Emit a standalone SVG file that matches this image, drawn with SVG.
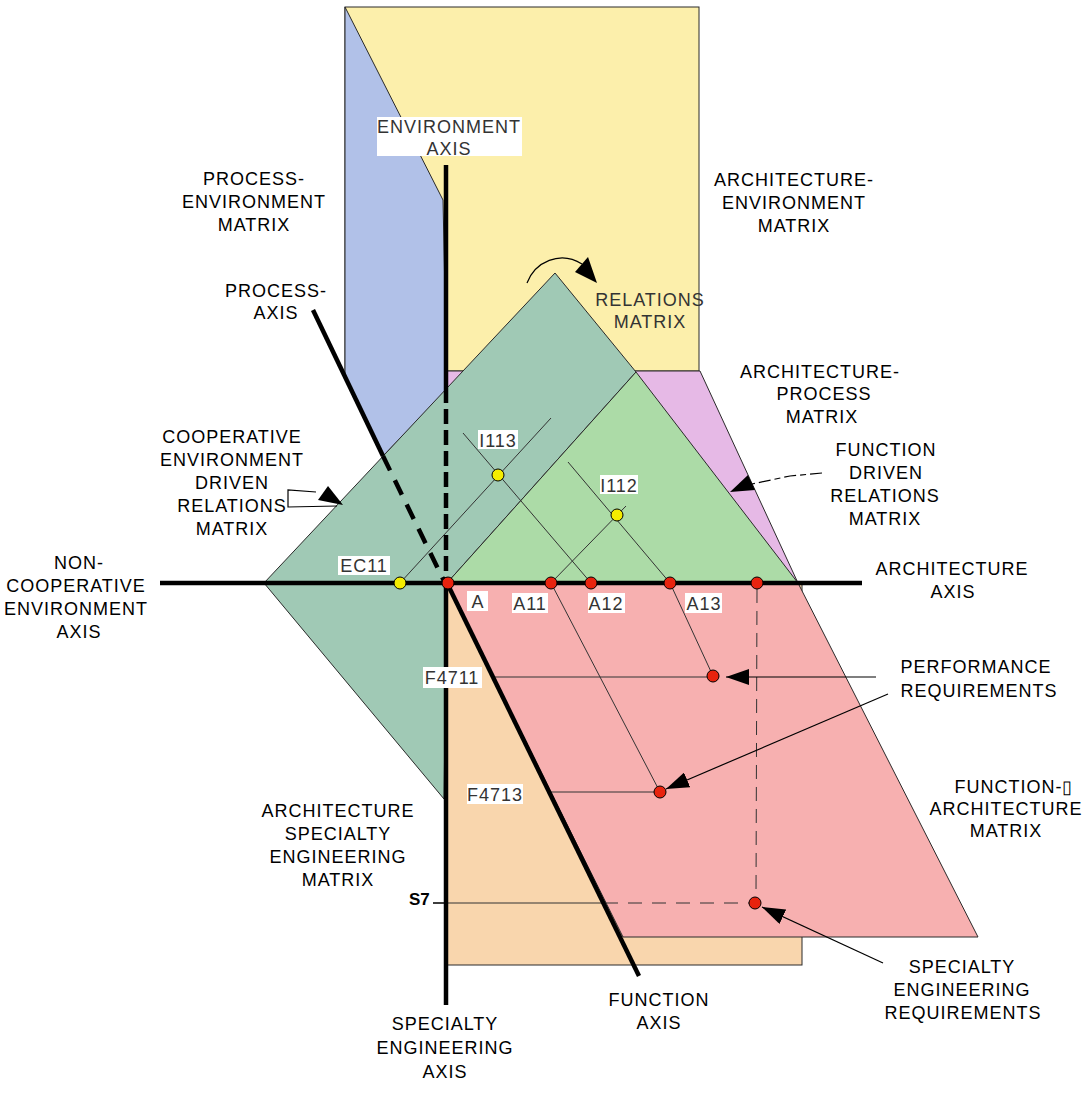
<svg xmlns="http://www.w3.org/2000/svg" width="1086" height="1099" viewBox="0 0 1086 1099">
<defs>
<style>
.lbl{font-family:"Liberation Sans",Arial,Helvetica,sans-serif;font-size:18px;letter-spacing:1px;text-anchor:middle;fill:#000}
.tag{font-family:"Liberation Sans",Arial,Helvetica,sans-serif;font-size:18px;letter-spacing:1px;text-anchor:middle;fill:#333}
.edge{stroke:#2a2a2a;stroke-width:1;stroke-linejoin:miter}
.axis{stroke:#000;stroke-width:4.5;fill:none}
.guide{stroke:#333;stroke-width:1;fill:none}
.call{stroke:#000;stroke-width:1.2;fill:none}
.rdot{fill:#e8230e;stroke:#000;stroke-width:1}
.ydot{fill:#f4ec00;stroke:#000;stroke-width:1}
.box{fill:#fff}
</style>
<marker id="head" markerUnits="userSpaceOnUse" markerWidth="24" markerHeight="16" refX="23" refY="8" orient="auto" viewBox="0 0 24 16">
<path d="M0,0 L23,8 L0,16 Z" fill="#000"/>
</marker>
</defs>
<rect width="1086" height="1099" fill="#fff"/>

<!-- matrix planes -->
<g id="planes">
<g id="architecture-environment-matrix"><rect x="345" y="7" width="354" height="364" fill="#fcefab" class="edge"/></g>
<g id="process-environment-matrix"><polygon points="345,7 443,200 447,390 383,456 345,378" fill="#b1c1e8" class="edge"/></g>
<g id="architecture-process-matrix"><polygon points="445,371 700,371 798,583 447,583" fill="#e6b9e6" class="edge"/></g>
<g id="architecture-specialty-matrix"><rect x="447" y="583" width="355" height="382" fill="#f9d6ad" class="edge"/></g>
<g id="function-architecture-matrix"><polygon points="447,583 798,583 978,937 623,937" fill="#f7b0b0" class="edge"/></g>
<g id="cooperative-relations-matrix"><polygon points="264,583 555,273 636,372 447,583 444,799" fill="#a0c9b5" class="edge"/></g>
<g id="function-relations-matrix"><polygon points="447,583 636,372 798,583" fill="#acdba7" class="edge"/></g>
</g>

<!-- projection guide lines -->
<g id="guides">
<path class="guide" d="M400,583 L551,418"/>
<path class="guide" d="M463,433 L591,583"/>
<path class="guide" d="M551,583 L626,506"/>
<path class="guide" d="M568,462 L670,583"/>
<path class="guide" d="M551,583 L660,792"/>
<path class="guide" d="M670,583 L713,676"/>
<path class="guide" d="M492,677 L713,677"/>
<path class="guide" d="M549,792 L660,792"/>
<path class="guide" d="M433,903 L604,903"/>
<path class="guide" d="M604,903 L749,903" stroke-dasharray="14,10"/>
<path class="guide" d="M757,589 L756,897" stroke-dasharray="14,8"/>
</g>

<!-- axes -->
<g id="axes">
<path class="axis" d="M160,583 L862,583"/>
<path class="axis" d="M446,165 L446,388"/>
<path class="axis" d="M446,388 L446,581" stroke-dasharray="15,6"/>
<path class="axis" d="M446,583 L446,1005"/>
<path class="axis" d="M313,310 L383,456"/>
<path class="axis" d="M383,456 L444,581" stroke-width="6" stroke-dasharray="16,11"/>
<path class="axis" d="M447,583 L639,976" stroke-width="5"/>
</g>

<!-- element points -->
<g id="points">
<circle class="ydot" cx="400" cy="583" r="6"/>
<circle class="ydot" cx="498" cy="475" r="6"/>
<circle class="ydot" cx="617" cy="515" r="6"/>
<circle class="rdot" cx="448" cy="583" r="6"/>
<circle class="rdot" cx="551" cy="583" r="6"/>
<circle class="rdot" cx="591" cy="583" r="6"/>
<circle class="rdot" cx="670" cy="583" r="6"/>
<circle class="rdot" cx="757" cy="583" r="6"/>
<circle class="rdot" cx="713" cy="676" r="6"/>
<circle class="rdot" cx="660" cy="792" r="6"/>
<circle class="rdot" cx="755" cy="903" r="6"/>
</g>

<!-- callout connectors -->
<g id="connectors">
<path class="call" d="M527,283 C535,262 560,250 582,264"/>
<polygon points="575,272 588,257 597,283" fill="#000"/>
<path class="call" d="M822,473 L790,476 L752,484" stroke-dasharray="12,4,6,4"/>
<polygon points="730,492 748,475 755,490" fill="#000"/>
<path class="call" d="M337,506 L288,507 L288,490 L316,492"/>
<polygon points="318,500 328,486 343,505" fill="#000"/>
<path class="call" d="M876,677 L726,677" marker-end="url(#head)"/>
<path class="call" d="M888,694 L666,789" marker-end="url(#head)"/>
<path class="call" d="M883,963 L762,907" marker-end="url(#head)"/>
</g>

<!-- labels inside the planes -->
<g id="plane-tags">
<rect class="box" x="377" y="117" width="145" height="39"/>
<text class="tag" x="449" y="133">ENVIRONMENT</text>
<text class="tag" x="449" y="155">AXIS</text>
<text class="tag" x="650" y="306">RELATIONS</text>
<text class="tag" x="650" y="328">MATRIX</text>
<rect class="box" x="338" y="556" width="52" height="19"/>
<text class="tag" x="364" y="572">EC11</text>
<rect class="box" x="478" y="430" width="40" height="19"/>
<text class="tag" x="498" y="447">I113</text>
<rect class="box" x="600" y="475" width="38" height="19"/>
<text class="tag" x="619" y="492">I112</text>
<rect class="box" x="467" y="591" width="21" height="20"/>
<text class="tag" x="478" y="608">A</text>
<rect class="box" x="512" y="593" width="36" height="20"/>
<text class="tag" x="530" y="610">A11</text>
<rect class="box" x="588" y="593" width="37" height="20"/>
<text class="tag" x="606" y="610">A12</text>
<rect class="box" x="685" y="593" width="37" height="20"/>
<text class="tag" x="704" y="610">A13</text>
<rect class="box" x="423" y="667" width="59" height="21"/>
<text class="tag" x="452" y="684">F4711</text>
<rect class="box" x="467" y="784" width="56" height="20"/>
<text class="tag" x="495" y="801">F4713</text>
<text x="409" y="905" style="font-family:'Liberation Sans',Arial,sans-serif;font-size:17px;font-weight:bold;fill:#000">S7</text>
<path d="M433,903 L447,903" stroke="#000" stroke-width="1.2"/>
</g>

<!-- outside labels -->
<g id="labels">
<g id="label-process-environment"><text class="lbl" x="254" y="185">PROCESS-</text><text class="lbl" x="254" y="208">ENVIRONMENT</text><text class="lbl" x="254" y="231">MATRIX</text></g>
<g id="label-process-axis"><text class="lbl" x="276" y="297">PROCESS-</text><text class="lbl" x="276" y="319">AXIS</text></g>
<g id="label-architecture-environment"><text class="lbl" x="794" y="186">ARCHITECTURE-</text><text class="lbl" x="794" y="209">ENVIRONMENT</text><text class="lbl" x="794" y="232">MATRIX</text></g>
<g id="label-architecture-process"><text class="lbl" x="820" y="378">ARCHITECTURE-</text><text class="lbl" x="824" y="400">PROCESS</text><text class="lbl" x="822" y="423">MATRIX</text></g>
<g id="label-function-relations"><text class="lbl" x="886" y="456">FUNCTION</text><text class="lbl" x="886" y="479">DRIVEN</text><text class="lbl" x="885" y="502">RELATIONS</text><text class="lbl" x="885" y="525">MATRIX</text></g>
<g id="label-cooperative-relations"><text class="lbl" x="232" y="443">COOPERATIVE</text><text class="lbl" x="232" y="466">ENVIRONMENT</text><text class="lbl" x="232" y="489">DRIVEN</text><text class="lbl" x="232" y="512">RELATIONS</text><text class="lbl" x="232" y="535">MATRIX</text></g>
<g id="label-noncooperative-axis"><text class="lbl" x="79" y="569">NON-</text><text class="lbl" x="76" y="592">COOPERATIVE</text><text class="lbl" x="76" y="615">ENVIRONMENT</text><text class="lbl" x="79" y="638">AXIS</text></g>
<g id="label-architecture-axis"><text class="lbl" x="952" y="575">ARCHITECTURE</text><text class="lbl" x="953" y="598">AXIS</text></g>
<g id="label-performance"><text class="lbl" x="976" y="673">PERFORMANCE</text><text class="lbl" x="979" y="697">REQUIREMENTS</text></g>
<g id="label-function-architecture"><text class="lbl" x="1014" y="793">FUNCTION-▯</text><text class="lbl" x="1006" y="815">ARCHITECTURE</text><text class="lbl" x="1006" y="837">MATRIX</text></g>
<g id="label-specialty-requirements"><text class="lbl" x="962" y="973">SPECIALTY</text><text class="lbl" x="962" y="996">ENGINEERING</text><text class="lbl" x="963" y="1019">REQUIREMENTS</text></g>
<g id="label-architecture-specialty"><text class="lbl" x="338" y="817">ARCHITECTURE</text><text class="lbl" x="338" y="840">SPECIALTY</text><text class="lbl" x="338" y="863">ENGINEERING</text><text class="lbl" x="338" y="886">MATRIX</text></g>
<g id="label-function-axis"><text class="lbl" x="659" y="1006">FUNCTION</text><text class="lbl" x="659" y="1029">AXIS</text></g>
<g id="label-specialty-axis"><text class="lbl" x="445" y="1030">SPECIALTY</text><text class="lbl" x="445" y="1054">ENGINEERING</text><text class="lbl" x="445" y="1078">AXIS</text></g>
</g>
</svg>
